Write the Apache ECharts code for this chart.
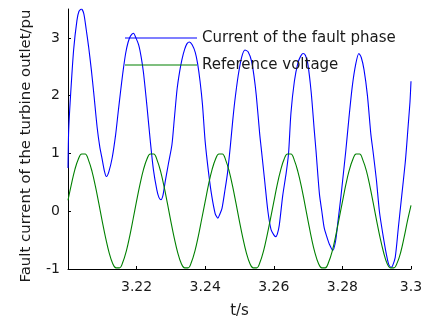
<!DOCTYPE html>
<html>
<head>
<meta charset="utf-8">
<script src="https://cdn.jsdelivr.net/npm/echarts@6/dist/echarts.min.js"></script>
<style>
html,body{margin:0;padding:0;background:#fff;}
#chart{width:428px;height:324px;}
</style>
</head>
<body>
<div id="chart"></div>
<script>
// Fault-phase current (pu)
var blueT = [
  3.2000,3.2002,3.2007,3.20165,3.2026,3.2032,3.2039,3.2046,3.2053,3.2060,
  3.2068,3.2075,3.2085,3.2093,3.2099,3.2106,3.2112,3.2119,3.2129,3.2139,
  3.2146,3.2153,3.2160,3.2168,3.2175,3.2182,3.2191,3.2198,3.2206,3.2213,
  3.2220,3.2230,3.2240,3.2249,3.2259,3.2265,3.2271,3.2277,3.2283,3.2293,
  3.2303,3.2310,3.2318,3.2325,3.2332,3.2340,3.2347,3.2354,3.2362,3.2371,
  3.2378,3.2385,3.2392,3.2400,3.2410,3.2419,3.2429,3.2434,3.2437,3.2442,
  3.2449,3.2458,3.2465,3.2473,3.2480,3.2486,3.2496,3.2506,3.2516,3.2525,
  3.2535,3.2542,3.2549,3.2559,3.2563,3.2573,3.2583,3.2592,3.2600,3.2605,
  3.2610,3.2616,3.2626,3.2636,3.2643,3.2650,3.2660,3.2670,3.2678,3.2685,
  3.2692,3.2699,3.2709,3.2718,3.2723,3.2733,3.2740,3.2747,3.2755,3.2762,
  3.2772,3.2780,3.2787,3.2796,3.2801,3.2810,3.2819,3.2829,3.2839,3.2848,
  3.2855,3.2863,3.2873,3.2883,3.2889,3.2899,3.2908,3.2918,3.2928,3.2935,
  3.2942,3.2946,3.2954,3.2963,3.2973,3.2983,3.2987,3.2992,3.2997,3.3000
];
var blueV = [
  0.75,1.40,1.96,2.80,3.30,3.46,3.50,3.42,3.15,2.85,
  2.45,2.05,1.45,1.10,0.92,0.70,0.60,0.68,0.93,1.33,
  1.70,2.06,2.40,2.73,2.92,3.03,3.08,3.00,2.88,2.68,
  2.40,1.83,1.21,0.72,0.37,0.24,0.20,0.28,0.50,0.83,
  1.15,1.60,2.11,2.40,2.62,2.80,2.90,2.93,2.88,2.75,
  2.55,2.25,1.85,1.20,0.66,0.27,-0.04,-0.10,-0.12,-0.06,
  0.05,0.38,0.66,1.11,1.55,1.89,2.34,2.66,2.79,2.76,
  2.60,2.35,2.00,1.33,1.11,0.55,-0.01,-0.32,-0.41,-0.44,
  -0.40,-0.24,0.27,0.66,1.00,1.70,2.25,2.56,2.68,2.73,
  2.70,2.56,2.06,1.40,1.05,0.30,0.00,-0.29,-0.45,-0.57,
  -0.68,-0.52,-0.18,0.27,0.55,1.05,1.61,2.17,2.55,2.73,
  2.66,2.45,2.00,1.33,1.05,0.55,-0.01,-0.40,-0.74,-0.92,
  -0.97,-0.95,-0.80,-0.29,0.27,0.83,1.11,1.50,1.89,2.25
];
// Reference voltage (pu)
var greenT = [
  3.200,3.201,3.202,3.203,3.204,3.205,3.206,3.207,3.208,3.209,
  3.210,3.211,3.212,3.213,3.214,3.215,3.216,3.217,3.218,3.219,
  3.220,3.221,3.222,3.223,3.224,3.225,3.226,3.227,3.228,3.229,
  3.230,3.231,3.232,3.233,3.234,3.235,3.236,3.237,3.238,3.239,
  3.240,3.241,3.242,3.243,3.244,3.245,3.246,3.247,3.248,3.249,
  3.250,3.251,3.252,3.253,3.254,3.255,3.256,3.257,3.258,3.259,
  3.260,3.261,3.262,3.263,3.264,3.265,3.266,3.267,3.268,3.269,
  3.270,3.271,3.272,3.273,3.274,3.275,3.276,3.277,3.278,3.279,
  3.280,3.281,3.282,3.283,3.284,3.285,3.286,3.287,3.288,3.289,
  3.290,3.291,3.292,3.293,3.294,3.295,3.296,3.297,3.298,3.299,
  3.300
];
var greenV = [
  0.19,0.47,0.72,0.90,0.99,0.99,0.88,0.69,0.43,0.13,
  -0.18,-0.47,-0.72,-0.90,-0.98,-0.98,-0.88,-0.69,-0.43,-0.13,
  0.18,0.47,0.72,0.90,0.99,0.99,0.88,0.69,0.43,0.13,
  -0.18,-0.47,-0.72,-0.90,-0.98,-0.98,-0.88,-0.69,-0.43,-0.13,
  0.17,0.47,0.72,0.90,0.99,0.99,0.88,0.69,0.43,0.13,
  -0.18,-0.47,-0.72,-0.90,-0.98,-0.98,-0.88,-0.69,-0.43,-0.14,
  0.16,0.46,0.71,0.90,0.99,0.99,0.88,0.69,0.44,0.14,
  -0.17,-0.47,-0.72,-0.90,-0.98,-0.98,-0.88,-0.70,-0.44,-0.14,
  0.16,0.46,0.71,0.89,0.99,0.99,0.88,0.70,0.44,0.14,
  -0.17,-0.46,-0.71,-0.90,-0.98,-0.98,-0.89,-0.71,-0.45,-0.16,
  0.10
];
var xTicks = [3.22, 3.24, 3.26, 3.28, 3.3];
var yTicks = [-1, 0, 1, 2, 3];
var seriesNames = ['Current of the fault phase', 'Reference voltage'];
var xName = 't/s';
var yName = 'Fault current of the turbine outlet/pu';

function pairs(t, v) { return t.map(function (x, i) { return [x, v[i]]; }); }
function near(list, val) { return list.some(function (k) { return Math.abs(k - val) < 1e-6; }); }

var FONT = 'DejaVu Sans';
var chart = echarts.init(document.getElementById('chart'), null, { renderer: 'canvas' });
chart.setOption({
  backgroundColor: '#ffffff',
  animation: false,
  grid: { left: 68, right: 17, top: 9, bottom: 48.5, containLabel: false },
  legend: {
    orient: 'vertical',
    left: 125, top: 30.5, padding: 0,
    itemWidth: 72, itemHeight: 1, itemGap: 12,
    icon: 'rect',
    textStyle: { fontFamily: FONT, fontSize: 15, color: '#1a1a1a', lineHeight: 15 },
    data: seriesNames
  },
  xAxis: {
    type: 'value', min: 3.2, max: 3.3, interval: 0.02,
    name: xName, nameLocation: 'middle', nameGap: 35,
    nameTextStyle: { fontFamily: FONT, fontSize: 15, color: '#1a1a1a' },
    axisLine: { show: true, onZero: false, lineStyle: { color: '#000', width: 1 } },
    axisTick: { show: true, inside: true, length: 3, lineStyle: { color: '#000' } },
    axisLabel: {
      fontFamily: FONT, fontSize: 14, color: '#1a1a1a', margin: 11,
      showMinLabel: false,
      formatter: function (v) { return near(xTicks, v) ? String(+v.toFixed(2)) : ''; }
    },
    splitLine: { show: false }
  },
  yAxis: {
    type: 'value', min: -1, max: 3.5, interval: 1,
    name: yName, nameLocation: 'middle', nameGap: 34,
    nameTextStyle: { fontFamily: FONT, fontSize: 14.9, color: '#1a1a1a', padding: [0, 14, 0, 0] },
    axisLine: { show: true, onZero: false, lineStyle: { color: '#000', width: 1 } },
    axisTick: { show: true, inside: true, length: 3, lineStyle: { color: '#000' } },
    axisLabel: {
      fontFamily: FONT, fontSize: 14, color: '#1a1a1a', margin: 8,
      showMaxLabel: false,
      formatter: function (v) { return near(yTicks, v) ? String(v) : ''; }
    },
    splitLine: { show: false }
  },
  series: [
    {
      name: seriesNames[0], type: 'line', data: pairs(blueT, blueV),
      showSymbol: false, symbol: 'none', smooth: 0.25, clip: true,
      lineStyle: { color: '#0000ff', width: 1.1 }, itemStyle: { color: '#0000ff' }
    },
    {
      name: seriesNames[1], type: 'line', data: pairs(greenT, greenV),
      showSymbol: false, symbol: 'none', smooth: 0.4, clip: true,
      lineStyle: { color: '#008000', width: 1.1 }, itemStyle: { color: '#008000' }
    }
  ]
});
</script>
</body>
</html>
